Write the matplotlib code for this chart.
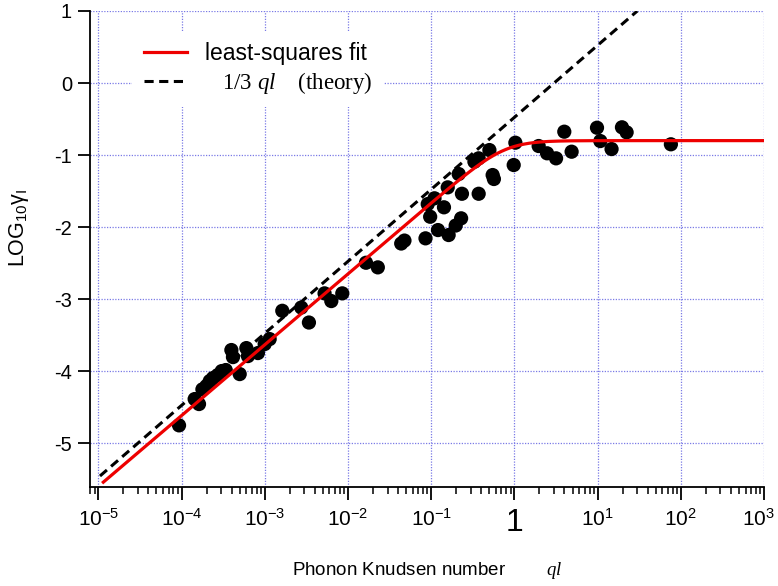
import numpy as np
import matplotlib
matplotlib.use("Agg")
import matplotlib.pyplot as plt
import matplotlib.transforms as mtransforms
from matplotlib.lines import Line2D
from matplotlib.ticker import FixedLocator, FixedFormatter, LogLocator, NullFormatter

plt.rcParams['font.family'] = ['Liberation Sans', 'DejaVu Sans']
plt.rcParams['mathtext.fontset'] = 'custom'
plt.rcParams['mathtext.rm'] = 'Liberation Sans'
plt.rcParams['mathtext.it'] = 'Liberation Serif:italic'
plt.rcParams['axes.unicode_minus'] = False

# log10 of the phonon Knudsen number ql for each measurement
log_ql = [-4.030, -3.842, -3.790, -3.749, -3.701, -3.661, -3.622, -3.565, -3.517,
          -3.469, -3.401, -3.382, -3.301, -3.221, -3.202, -3.082, -3.001, -2.941,
          -2.789, -2.561, -2.469, -2.281, -2.200, -2.068, -1.783, -1.641, -1.360,
          -1.321, -1.068, -1.012, -1.041, -0.960, -0.918, -0.846, -0.801, -0.790,
          -0.705, -0.640, -0.669, -0.630, -0.480, -0.429, -0.429, -0.300, -0.261,
          -0.246, -0.008, 0.012, 0.292, 0.393, 0.501, 0.600, 0.688, 0.993, 1.033,
          1.168, 1.293, 1.349, 1.881]
# LOG10 gamma_I for each measurement
log_gamma = [-4.754, -4.389, -4.458, -4.254, -4.208, -4.139, -4.097, -4.056, -4.000,
             -3.986, -3.708, -3.806, -4.042, -3.681, -3.792, -3.750, -3.625, -3.556,
             -3.163, -3.118, -3.326, -2.921, -3.028, -2.921, -2.496, -2.560, -2.229,
             -2.188, -2.157, -1.857, -1.681, -1.601, -2.042, -1.726, -1.449, -2.111,
             -1.979, -1.879, -1.264, -1.538, -1.093, -1.046, -1.538, -0.931, -1.278,
             -1.333, -1.139, -0.829, -0.875, -0.976, -1.046, -0.676, -0.954, -0.621,
             -0.806, -0.917, -0.615, -0.685, -0.851]

# least-squares fit: power law rolling over to a plateau
fit_slope = 0.984
fit_intercept = -0.682
fit_plateau = -0.80
fit_sharpness = 2.3
fit_range = (-4.94, 3.0)

# theory: gamma = ql / 3
theory_factor = 1.0 / 3.0
theory_range = (-4.98, np.log10(30.0))

x_ticks = [1e-5, 1e-4, 1e-3, 1e-2, 1e-1, 1.0, 1e1, 1e2, 1e3]
x_tick_labels = [r'$\mathregular{10^{-5}}$', r'$\mathregular{10^{-4}}$',
                 r'$\mathregular{10^{-3}}$', r'$\mathregular{10^{-2}}$',
                 r'$\mathregular{10^{-1}}$', '1', r'$\mathregular{10^{1}}$',
                 r'$\mathregular{10^{2}}$', r'$\mathregular{10^{3}}$']
y_ticks = [-5, -4, -3, -2, -1, 0, 1]
y_tick_labels = ['-5', '-4', '-3', '-2', '-1', '0', '1']

fig = plt.figure(figsize=(7.78, 5.86), dpi=100)
ax = fig.add_axes([90 / 778, 1 - 487 / 586, (764 - 90) / 778, (487 - 11) / 586])

ax.set_xscale('log')
ax.set_xlim(10 ** -5.10, 1e3)
ax.set_ylim(-5.61, 1.0)

# grid
grid_kw = dict(color='#7a7ae6', lw=0.9, ls=(0, (1, 1.2)), zorder=0)
for gx in x_ticks:
    ax.axvline(gx, **grid_kw)
for gy in y_ticks:
    ax.axhline(gy, **grid_kw)

# data points
ax.scatter(10 ** np.array(log_ql), log_gamma, s=105, color='black',
           edgecolors='none', zorder=2)

# theory line
dash = (0, (3.0, 1.8))
lt = np.linspace(theory_range[0], theory_range[1], 50)
ax.plot(10 ** lt, np.log10(theory_factor * 10 ** lt), color='black', lw=2.2,
        ls=dash, zorder=3)

# fit curve
lf = np.linspace(fit_range[0], fit_range[1], 600)
ylin = fit_slope * lf + fit_intercept
yfit = ylin - np.log10(1 + 10 ** (fit_sharpness * (ylin - fit_plateau))) / fit_sharpness
ax.plot(10 ** lf, yfit, color='#ee0000', lw=2.3, zorder=4)

# axes styling
ax.spines['top'].set_visible(False)
ax.spines['right'].set_visible(False)
ax.spines['left'].set_linewidth(1.3)
ax.spines['bottom'].set_linewidth(1.3)

ax.xaxis.set_major_locator(FixedLocator(x_ticks))
ax.xaxis.set_major_formatter(FixedFormatter(x_tick_labels))
ax.xaxis.set_minor_locator(LogLocator(base=10, subs=np.arange(2, 10), numticks=20))
ax.xaxis.set_minor_formatter(NullFormatter())
ax.tick_params(axis='x', which='major', direction='out', length=9, width=1.3,
               labelsize=15, pad=6)
ax.tick_params(axis='x', which='minor', direction='out', length=5, width=1.1)
ax.set_yticks(y_ticks)
ax.set_yticklabels(y_tick_labels)
ax.tick_params(axis='y', which='major', direction='out', length=9, width=1.3,
               labelsize=14.5, pad=4)

xlabels = ax.get_xticklabels()
for lab in xlabels:
    if lab.get_text() == '1':
        lab.set_fontsize(23)
# nudge the last label so it stays inside the figure
xlabels[-1].set_transform(xlabels[-1].get_transform() +
                          mtransforms.ScaledTranslation(-4 / 72, 0, fig.dpi_scale_trans))

ax.set_xlabel('Phonon Knudsen number        $ql$', fontsize=13.5, labelpad=16)
ax.set_ylabel(r'LOG$_{\mathregular{10}}$γ$_{\mathregular{I}}$', fontsize=15.5)
ax.yaxis.set_label_coords(-0.088, 0.545)

handles = [Line2D([], [], color='#ee0000', lw=2.3),
           Line2D([], [], color='black', lw=2.2, ls=dash)]
labels = ['least-squares fit', '   1/3 $ql$    (theory)']
leg = ax.legend(handles, labels, loc='upper left', bbox_to_anchor=(0.063, 0.958),
                borderaxespad=0, frameon=True, fancybox=False, edgecolor='none',
                facecolor='white', framealpha=1, fontsize=16.5, handlelength=1.88,
                handletextpad=0.79, borderpad=0.5, labelspacing=0.2)
leg.get_texts()[1].set_family('Liberation Serif')

fig.savefig('out.png', dpi=100)
